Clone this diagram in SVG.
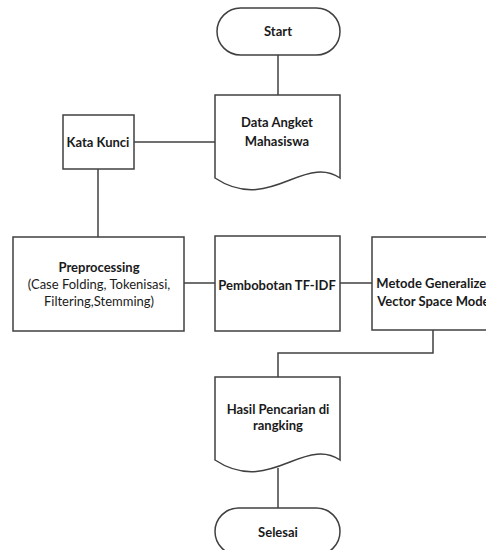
<svg xmlns="http://www.w3.org/2000/svg" width="486" height="550" viewBox="0 0 486 550">
<style>
.s{fill:#ffffff;stroke:#404040;stroke-width:1.5}
.c{fill:none;stroke:#404040;stroke-width:1.5}
.t{font-family:Lato,"Open Sans","Liberation Sans",sans-serif;font-size:13px;fill:#1a1a1a;text-anchor:middle}
.b{font-weight:bold}
</style>
<rect width="486" height="550" fill="#ffffff"/>
<g id="connectors">
<path class="c" d="M278,55 V95"/>
<path class="c" d="M134,142 H215"/>
<path class="c" d="M98,169 V237"/>
<path class="c" d="M184,283 H215"/>
<path class="c" d="M340,283 H372"/>
<path class="c" d="M433,330 V353 H278 V377"/>
<path class="c" d="M278,468 V508"/>
</g>
<g id="start">
<rect class="s" x="217" y="8" width="123" height="47" rx="23.5"/>
<text class="t b" x="278" y="36">Start</text>
</g>
<g id="data-angket">
<path class="s" d="M215,95 H340 V178 C325,168 310,172 290,180 C270,188 245,198 215,178 Z"/>
<text class="t b" x="277" y="127">Data Angket</text>
<text class="t b" x="277" y="146">Mahasiswa</text>
</g>
<g id="kata-kunci">
<rect class="s" x="63" y="115" width="71" height="54"/>
<text class="t b" x="98" y="147">Kata Kunci</text>
</g>
<g id="preprocessing">
<rect class="s" x="13" y="237" width="171" height="94"/>
<text class="t b" x="99" y="272">Preprocessing</text>
<text class="t" x="99" y="289">(Case Folding, Tokenisasi,</text>
<text class="t" x="99" y="306">Filtering,Stemming)</text>
</g>
<g id="pembobotan">
<rect class="s" x="215" y="236" width="125" height="95"/>
<text class="t b" x="277" y="290">Pembobotan TF-IDF</text>
</g>
<g id="metode">
<rect class="s" x="372" y="237" width="125" height="93"/>
<text class="t b" x="435" y="288">Metode Generalized</text>
<text class="t b" x="435" y="306">Vector Space Model</text>
</g>
<g id="hasil">
<path class="s" d="M215,377 H340 V460 C325,450 310,454 290,462 C270,470 245,480 215,460 Z"/>
<text class="t b" x="278" y="414">Hasil Pencarian di</text>
<text class="t b" x="278" y="430">rangking</text>
</g>
<g id="selesai">
<rect class="s" x="215" y="508" width="125" height="47" rx="23.5"/>
<text class="t b" x="278" y="537">Selesai</text>
</g>
</svg>
